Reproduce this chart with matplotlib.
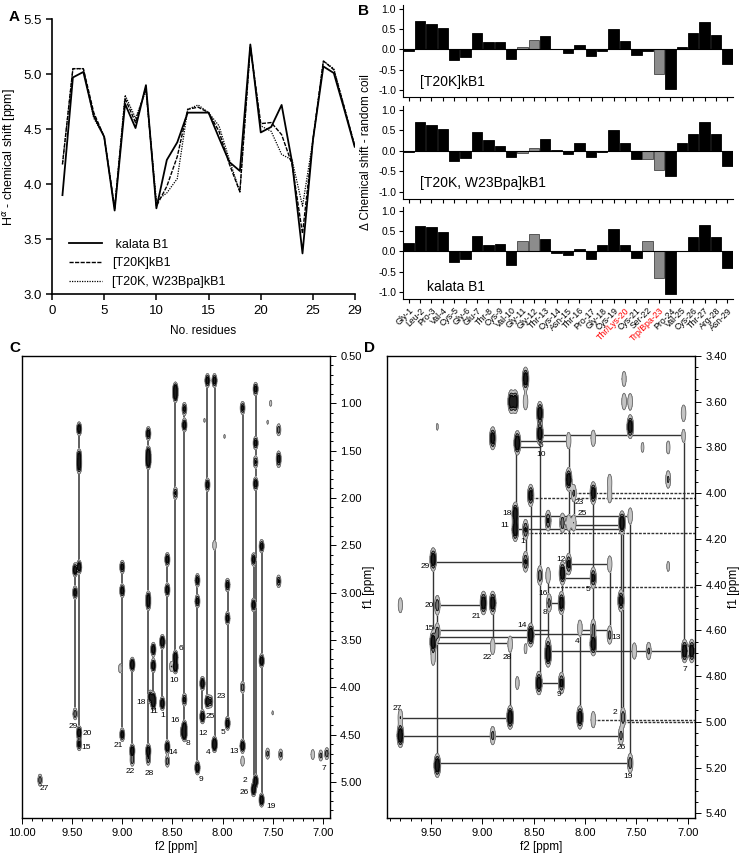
import numpy as np
import matplotlib
matplotlib.use("Agg")
import matplotlib.pyplot as plt
from matplotlib.ticker import MultipleLocator, FormatStrFormatter

plt.rcParams["font.family"] = ["Liberation Sans", "DejaVu Sans"]

# ---- panel A: H-alpha chemical shifts ----
residues = list(range(1, 30))
ha_kb1 = [3.90, 4.97, 5.02, 4.62, 4.43, 3.76, 4.73, 4.51, 4.90, 3.78, 4.22, 4.38, 4.65, 4.65, 4.65,
          4.42, 4.20, 4.12, 5.27, 4.47, 4.52, 4.72, 4.20, 3.37, 4.40, 5.07, 5.01, 4.68, 4.34]
ha_t20k = [4.18, 5.05, 5.05, 4.65, 4.43, 3.78, 4.78, 4.56, 4.88, 3.80, 3.98, 4.25, 4.68, 4.70, 4.65,
           4.48, 4.18, 3.93, 5.25, 4.55, 4.56, 4.45, 4.18, 3.55, 4.40, 5.12, 5.04, 4.70, 4.35]
ha_bpa = [4.18, 5.05, 5.05, 4.60, 4.43, 3.78, 4.81, 4.60, 4.85, 3.85, 3.92, 4.05, 4.68, 4.72, 4.65,
          4.53, 4.22, 3.93, 5.25, 4.53, 4.48, 4.27, 4.22, 3.80, 4.40, 5.12, 5.05, 4.70, 4.35]

# ---- panel B: secondary shifts ----
res_labels = ["Gly-1", "Leu-2", "Pro-3", "Val-4", "Cys-5", "Gly-6", "Glu-7", "Thr-8", "Cys-9", "Val-10",
              "Gly-11", "Gly-12", "Thr-13", "Cys-14", "Asn-15", "Thr-16", "Pro-17", "Gly-18", "Cys-19",
              "Thr/Lys-20", "Cys-21", "Ser-22", "Trp/Bpa-23", "Pro-24", "Val-25", "Cys-26", "Thr-27",
              "Arg-28", "Asn-29"]
red_labels = ["Thr/Lys-20", "Trp/Bpa-23"]
sec_t20k = [-0.03, 0.70, 0.62, 0.52, -0.27, -0.18, 0.40, 0.18, 0.18, -0.23, 0.05, 0.24, 0.33, 0.01, -0.08,
            0.10, -0.17, -0.03, 0.51, 0.22, -0.14, -0.03, -0.60, -0.98, 0.07, 0.40, 0.68, 0.36, -0.36]
sec_bpa = [-0.03, 0.70, 0.63, 0.53, -0.26, -0.17, 0.45, 0.26, 0.13, -0.16, -0.05, 0.08, 0.28, 0.01, -0.09,
           0.18, -0.16, -0.02, 0.52, 0.20, -0.21, -0.19, -0.46, -0.62, 0.19, 0.41, 0.70, 0.42, -0.36]
sec_kb1 = [0.22, 0.63, 0.60, 0.47, -0.27, -0.18, 0.38, 0.15, 0.18, -0.33, 0.26, 0.42, 0.30, -0.05, -0.08,
           0.07, -0.20, 0.16, 0.56, 0.15, -0.17, 0.25, -0.65, -1.05, 0.02, 0.35, 0.65, 0.35, -0.40]
gray_t20k = [11, 12, 23]
gray_bpa = [11, 12, 22, 23]
gray_kb1 = [11, 12, 22, 23]

# ---- panel C: TOCSY peaks (f2, f1, intensity) ----
tocsy_f2 = [9.47, 9.47, 9.47, 9.43, 9.43, 9.43, 9.43, 9.43, 9.43, 9.43, 9.00, 9.00, 9.00, 9.02,
            8.90, 8.90, 8.90, 8.74, 8.74, 8.74, 8.74, 8.74, 8.74, 8.74, 8.74, 8.69, 8.69, 8.69, 8.69, 8.72,
            8.60, 8.60, 8.55, 8.55, 8.55, 8.55, 8.47, 8.47, 8.47, 8.47, 8.47, 8.51,
            8.38, 8.38, 8.38, 8.38, 8.38, 8.40, 8.25, 8.25, 8.25, 8.20, 8.20, 8.15, 8.15, 8.15, 8.12,
            8.08, 8.08, 8.08, 8.08, 7.95, 7.95, 7.95, 7.80, 7.80, 7.80, 7.80,
            7.69, 7.69, 7.69, 7.67, 7.67, 7.67, 7.67, 7.67, 7.61, 7.61, 7.61,
            7.44, 7.44, 7.44, 7.44, 7.55, 7.42, 7.10, 7.02, 6.96, 9.82,
            7.52, 7.55, 7.55, 7.58, 7.52, 7.22, 8.18, 7.98, 7.50, 7.45]
tocsy_f1 = [2.76, 3.00, 4.28, 1.27, 1.55, 1.62, 1.68, 2.73, 4.48, 4.60, 2.73, 2.98, 4.50, 3.80,
            3.76, 4.67, 4.77, 1.32, 1.52, 1.58, 1.63, 3.05, 3.12, 4.67, 4.76, 3.60, 3.77, 4.12, 4.17, 4.10,
            3.52, 4.17, 2.65, 2.97, 4.63, 4.78, 0.85, 0.92, 1.95, 3.68, 3.78, 3.78,
            1.06, 1.23, 4.13, 4.42, 4.50, 4.47, 2.87, 3.09, 4.85, 3.96, 4.31, 0.76, 1.86, 4.15, 4.15,
            0.76, 2.50, 4.59, 4.62, 2.92, 3.27, 4.38, 1.05, 4.00, 4.62, 4.78,
            2.65, 3.13, 5.08, 0.85, 1.42, 1.62, 1.85, 4.99, 2.51, 3.72, 5.19,
            1.28, 1.57, 1.62, 2.88, 4.70, 4.71, 4.71, 4.72, 4.70, 4.98,
            1.00, 1.20, 1.80, 2.05, 2.10, 2.45, 1.18, 1.35, 4.27, 4.35]
tocsy_amp = [1.0, 0.8, 0.5, 0.9, 0.7, 0.7, 0.6, 1.0, 1.0, 0.7, 0.8, 0.9, 0.8, 0.25,
             1.2, 1.0, 0.5, 0.9, 0.8, 0.9, 0.8, 0.7, 0.7, 1.0, 0.5, 1.0, 1.0, 1.0, 0.8, 0.8,
             1.2, 1.0, 0.9, 0.9, 1.0, 0.5, 1.0, 0.9, 0.6, 1.0, 1.2, 0.3,
             0.7, 0.9, 0.7, 1.0, 1.0, 0.4, 0.8, 0.8, 1.0, 1.0, 1.0, 0.9, 0.8, 1.0, 0.6,
             0.9, 0.3, 1.0, 0.6, 0.8, 0.8, 0.9, 0.7, 0.5, 1.0, 0.3,
             0.8, 0.9, 1.0, 0.8, 0.8, 0.6, 0.9, 1.0, 0.8, 1.0, 1.0,
             0.5, 0.6, 0.4, 0.6, 0.4, 0.4, 0.3, 0.4, 0.5, 0.5,
             0.15, 0.12, 0.1, 0.1, 0.1, 0.1, 0.12, 0.12, 0.12, 0.1]
# spin systems: f2, top f1, bottom f1
spin_f2 = [9.47, 9.43, 9.00, 8.90, 8.74, 8.69, 8.60, 8.55, 8.47, 8.38, 8.25, 8.20, 8.15, 8.08, 7.95,
           7.80, 7.69, 7.67, 7.61]
spin_top = [2.76, 1.27, 2.73, 3.76, 1.32, 3.60, 3.52, 2.65, 0.85, 1.06, 2.87, 3.96, 0.76, 0.76, 2.92,
            1.05, 2.65, 0.85, 2.51]
spin_bot = [4.28, 4.60, 4.50, 4.67, 4.67, 4.17, 4.17, 4.63, 3.78, 4.50, 4.85, 4.31, 4.15, 4.59, 4.38,
            4.62, 5.08, 4.99, 5.19]
tocsy_lab = ["29", "20", "15", "21", "22", "28", "18", "11", "1", "10", "16", "6", "8", "14", "9", "12",
             "25", "23", "4", "5", "13", "2", "26", "19", "7", "27"]
tocsy_lab_f2 = [9.49, 9.35, 9.36, 9.04, 8.92, 8.73, 8.81, 8.69, 8.60, 8.48, 8.47, 8.41, 8.34, 8.49, 8.22,
                8.19, 8.12, 8.01, 8.14, 8.00, 7.89, 7.78, 7.78, 7.52, 6.99, 9.78]
tocsy_lab_f1 = [4.41, 4.49, 4.64, 4.61, 4.89, 4.91, 4.16, 4.26, 4.30, 3.93, 4.35, 3.59, 4.59, 4.69, 4.97,
                4.49, 4.31, 4.10, 4.69, 4.48, 4.68, 4.98, 5.11, 5.26, 4.86, 5.07]

# ---- panel D: NOESY fingerprint (f2, f1, intensity) ----
noesy_f2 = [8.58, 8.58, 8.72, 8.68, 8.44, 8.44, 8.90, 8.66, 8.16, 7.92, 7.56, 7.62, 7.62, 7.56, 7.04,
            7.04, 7.44, 7.19, 9.44, 8.16, 8.11, 7.92, 7.76, 7.76, 7.19, 8.53, 8.68, 8.68, 8.58, 8.36,
            8.22, 8.16, 8.11, 7.64, 7.56, 9.48, 8.58, 8.16, 7.76, 8.22, 7.92, 8.44, 8.36, 7.19,
            9.44, 9.80, 8.99, 8.90, 8.35, 8.23, 7.65, 9.44, 9.48, 8.53, 8.05, 7.92, 7.76, 8.90, 8.73,
            8.58, 8.36, 8.36, 7.92, 7.52, 7.38, 7.03, 6.96, 9.48, 8.66, 8.45, 8.23, 9.80, 8.73, 8.05,
            7.92, 7.63, 9.80, 8.90, 7.65, 9.44, 7.56]
noesy_f1 = [3.50, 3.60, 3.60, 3.60, 3.65, 3.74, 3.76, 3.78, 3.77, 3.76, 3.71, 3.50, 3.60, 3.60, 3.65,
            3.75, 3.80, 3.80, 3.71, 3.94, 4.00, 4.00, 3.95, 4.01, 3.94, 4.01, 4.09, 4.16, 4.16, 4.12,
            4.13, 4.13, 4.13, 4.13, 4.10, 4.29, 4.30, 4.31, 4.31, 4.35, 4.37, 4.36, 4.36, 4.32,
            4.49, 4.49, 4.48, 4.48, 4.48, 4.48, 4.47, 4.61, 4.65, 4.62, 4.59, 4.59, 4.62, 4.67, 4.66,
            4.68, 4.67, 4.71, 4.66, 4.69, 4.69, 4.69, 4.69, 4.72, 4.83, 4.83, 4.83, 4.98, 4.98, 4.98,
            4.99, 4.98, 5.06, 5.06, 5.06, 5.19, 5.18]
noesy_amp = [1.0, 0.3, 1.0, 1.0, 1.0, 1.0, 0.9, 1.2, 0.3, 0.3, 1.0, 0.25, 0.3, 0.3, 0.3,
             0.2, 0.15, 0.2, 0.12, 1.0, 0.35, 0.9, 0.25, 0.25, 0.35, 0.8, 1.0, 1.0, 0.6, 0.6,
             0.5, 0.3, 0.3, 1.1, 0.3, 1.0, 0.6, 0.7, 0.3, 1.0, 0.7, 0.5, 0.3, 0.15,
             0.5, 0.25, 1.0, 1.0, 0.4, 0.9, 0.8, 0.5, 1.0, 1.1, 0.3, 0.4, 0.4, 0.3, 0.3,
             0.15, 0.4, 0.9, 1.0, 0.3, 0.35, 1.0, 1.0, 0.25, 0.2, 1.0, 0.7, 0.3, 1.1, 1.0,
             0.3, 0.5, 1.1, 0.4, 0.4, 1.1, 0.5]
walk_h_f1 = [3.745, 3.77, 3.80, 4.10, 4.14, 4.155, 4.30, 4.31, 4.37, 4.48, 4.49, 4.60, 4.60, 4.615,
             4.63, 4.655, 4.69, 4.83, 4.985, 5.06, 5.18]
walk_h_a = [8.44, 8.66, 8.66, 8.68, 8.11, 8.68, 9.48, 8.16, 8.22, 8.36, 9.44, 9.44, 8.05, 8.53,
            9.44, 9.48, 8.36, 8.45, 9.80, 9.80, 9.44]
walk_h_b = [7.04, 8.16, 8.44, 7.56, 7.64, 7.64, 8.58, 7.76, 7.92, 8.23, 8.99, 8.36, 7.76, 7.92,
            8.53, 8.73, 7.03, 8.23, 8.73, 7.65, 7.56]
walk_v_f2 = [9.48, 9.44, 8.90, 8.73, 8.67, 8.58, 8.53, 8.44, 8.36, 8.22, 8.16, 8.11, 8.05, 7.92, 7.76,
             7.65, 7.63, 7.56, 7.04]
walk_v_a = [4.29, 4.49, 4.48, 4.66, 3.77, 4.16, 4.01, 3.65, 4.36, 4.35, 3.77, 4.00, 4.59, 4.00, 4.31,
            4.13, 4.13, 4.10, 3.745]
walk_v_b = [4.72, 5.19, 4.67, 4.98, 4.16, 4.30, 4.62, 4.83, 4.71, 4.83, 4.31, 4.13, 4.98, 4.70, 4.62,
            5.06, 4.99, 5.18, 4.70]
dash_f1 = [4.00, 4.02, 4.175, 4.41, 4.99, 5.00]
dash_f2 = [8.11, 8.53, 8.58, 8.36, 7.92, 7.63]
noesy_lab = ["6", "10", "23", "18", "25", "11", "1", "12", "29", "5", "16", "20", "8", "21", "15", "14",
             "13", "4", "22", "28", "7", "9", "27", "2", "26", "19"]
noesy_lab_f2 = [8.43, 8.43, 8.06, 8.76, 8.03, 8.78, 8.61, 8.23, 9.56, 7.97, 8.41, 9.52, 8.39, 9.06, 9.52,
                8.61, 7.70, 8.08, 8.95, 8.76, 7.03, 8.25, 9.83, 7.71, 7.65, 7.58]
noesy_lab_f1 = [3.79, 3.83, 4.04, 4.09, 4.09, 4.14, 4.21, 4.29, 4.32, 4.42, 4.44, 4.49, 4.52, 4.54, 4.59,
                4.58, 4.63, 4.65, 4.72, 4.72, 4.77, 4.88, 4.94, 4.96, 5.11, 5.24]


def draw_peaks(ax, f2, f1, amp, sx, sy, xlim, ylim):
    x = np.linspace(min(xlim), max(xlim), 900)
    y = np.linspace(min(ylim), max(ylim), 1000)
    X, Y = np.meshgrid(x, y)
    Z = np.zeros_like(X)
    for a, b, c in zip(f2, f1, amp):
        Z += c * np.exp(-0.5 * ((X - a) / sx) ** 2 - 0.5 * ((Y - b) / sy) ** 2)
    ax.contourf(X, Y, Z, levels=[0.1, 0.3, 0.55, 100],
                colors=["#c4c4c4", "#7a7a7a", "#1e1e1e"], zorder=3)
    ax.contour(X, Y, Z, levels=[0.1, 0.3, 0.55],
               colors=["#6a6a6a", "#111111", "#000000"], linewidths=0.6, zorder=3)


def nmr_axes(ax, xlim, ylim, xmajor, ymajor, yminor, xlab_fmt, ylab_fmt):
    ax.set_xlim(xlim)
    ax.set_ylim(ylim)
    ax.xaxis.set_major_locator(MultipleLocator(xmajor))
    ax.xaxis.set_minor_locator(MultipleLocator(0.1))
    ax.yaxis.set_major_locator(MultipleLocator(ymajor))
    ax.yaxis.set_minor_locator(MultipleLocator(yminor))
    ax.xaxis.set_major_formatter(FormatStrFormatter(xlab_fmt))
    ax.yaxis.set_major_formatter(FormatStrFormatter(ylab_fmt))
    ax.yaxis.tick_right()
    ax.yaxis.set_label_position("right")
    ax.tick_params(which="both", direction="out", labelsize=8, width=0.7)
    ax.tick_params(which="major", length=4)
    ax.tick_params(which="minor", length=2)
    ax.set_xlabel("f2 [ppm]", fontsize=8.5, labelpad=2)
    ax.set_ylabel("f1 [ppm]", fontsize=8.5, labelpad=1)
    for s in ax.spines.values():
        s.set_linewidth(1.0)


fig = plt.figure(figsize=(7.4, 8.55), dpi=100)

# ---------- A ----------
axA = fig.add_axes([0.0703, 0.656, 0.409, 0.3216])
axA.plot(residues, ha_kb1, color="black", lw=1.3, label=" kalata B1")
axA.plot(residues, ha_t20k, color="black", lw=1.0, ls=(0, (3, 1)), label="[T20K]kB1")
axA.plot(residues, ha_bpa, color="black", lw=0.9, ls=(0, (1, 1)), label="[T20K, W23Bpa]kB1")
axA.set_xlim(0, 29)
axA.set_ylim(3.0, 5.5)
axA.set_xticks([0, 5, 10, 15, 20, 25, 29])
axA.set_yticks([3.0, 3.5, 4.0, 4.5, 5.0, 5.5])
axA.yaxis.set_major_formatter(FormatStrFormatter("%.1f"))
axA.spines["top"].set_visible(False)
axA.spines["right"].set_visible(False)
axA.spines["left"].set_linewidth(1.2)
axA.spines["bottom"].set_linewidth(1.2)
axA.tick_params(labelsize=9.5, width=1.1, length=4)
axA.set_xlabel("No. residues", fontsize=8.5, labelpad=6)
axA.set_ylabel(r"H$^{\alpha}$ - chemical shift [ppm]", fontsize=9, labelpad=4)
axA.legend(loc="lower left", frameon=False, fontsize=9, handlelength=2.6,
           bbox_to_anchor=(0.02, -0.02), labelspacing=0.55)

# ---------- B ----------
b_rows = [(0.8865, 0.1076, sec_t20k, gray_t20k, "[T20K]kB1", 2.0, -0.8),
          (0.7673, 0.1088, sec_bpa, gray_bpa, "[T20K, W23Bpa]kB1", 2.0, -0.8),
          (0.6503, 0.1076, sec_kb1, gray_kb1, "kalata B1", 2.6, -0.88)]
for i, (bot, h, vals, grays, name, tx, ty) in enumerate(b_rows):
    ax = fig.add_axes([0.5446, bot, 0.446, h])
    cols = ["#8c8c8c" if r in grays else "black" for r in residues]
    edges = ["#444444" if r in grays else "black" for r in residues]
    ax.bar(residues, vals, width=0.92, color=cols, edgecolor=edges, linewidth=0.6)
    ax.axhline(0, color="black", lw=0.8)
    ax.set_xlim(0.5, 29.5)
    ax.set_ylim(-1.18, 1.1)
    ax.set_yticks([-1.0, -0.5, 0.0, 0.5, 1.0])
    ax.yaxis.set_major_formatter(FormatStrFormatter("%.1f"))
    ax.set_xticks(residues)
    ax.spines["top"].set_visible(False)
    ax.spines["right"].set_visible(False)
    ax.tick_params(labelsize=7.5, width=0.8, length=3, pad=2)
    ax.text(tx, ty, name, fontsize=10, va="center")
    if i < 2:
        ax.set_xticklabels([])
    else:
        ax.set_xticklabels(res_labels, rotation=45, ha="right", rotation_mode="anchor", fontsize=6.3)
        for lab in ax.get_xticklabels():
            if lab.get_text() in red_labels:
                lab.set_color("red")
fig.text(0.494, 0.822, "Δ Chemical shift - random coil", rotation=90, ha="center", va="center",
         fontsize=8.5)

# ---------- C ----------
axC = fig.add_axes([0.0297, 0.0433, 0.416, 0.5404])
c_xlim = (10.0, 6.93)
c_ylim = (5.38, 0.5)
for f2, a, b in zip(spin_f2, spin_top, spin_bot):
    axC.plot([f2, f2], [a, b], color="#333333", lw=1.1, zorder=2)
draw_peaks(axC, tocsy_f2, tocsy_f1, tocsy_amp, 0.012, 0.035, c_xlim, c_ylim)
for t, x, y in zip(tocsy_lab, tocsy_lab_f2, tocsy_lab_f1):
    axC.text(x, y, t, fontsize=6, ha="center", va="center", zorder=4)
nmr_axes(axC, c_xlim, c_ylim, 0.5, 0.5, 0.1, "%.2f", "%.2f")

# ---------- D ----------
axD = fig.add_axes([0.523, 0.0433, 0.416, 0.5404])
d_xlim = (9.93, 6.93)
d_ylim = (5.42, 3.40)
for y, a, b in zip(walk_h_f1, walk_h_a, walk_h_b):
    axD.plot([a, b], [y, y], color="#333333", lw=1.0, zorder=2)
for x, a, b in zip(walk_v_f2, walk_v_a, walk_v_b):
    axD.plot([x, x], [a, b], color="#333333", lw=1.0, zorder=2)
for y, a in zip(dash_f1, dash_f2):
    axD.plot([a, d_xlim[1]], [y, y], color="#333333", lw=1.0, ls=(0, (2, 1)), zorder=2)
draw_peaks(axD, noesy_f2, noesy_f1, noesy_amp, 0.015, 0.024, d_xlim, d_ylim)
for t, x, y in zip(noesy_lab, noesy_lab_f2, noesy_lab_f1):
    axD.text(x, y, t, fontsize=6, ha="center", va="center", zorder=4)
nmr_axes(axD, d_xlim, d_ylim, 0.5, 0.2, 0.05, "%.2f", "%.2f")

# panel letters
for letter, x, y in [("A", 0.012, 0.988), ("B", 0.484, 0.995), ("C", 0.012, 0.601), ("D", 0.492, 0.601)]:
    fig.text(x, y, letter, fontsize=11, fontweight="bold", va="top")

fig.savefig("out.png", dpi=100)
